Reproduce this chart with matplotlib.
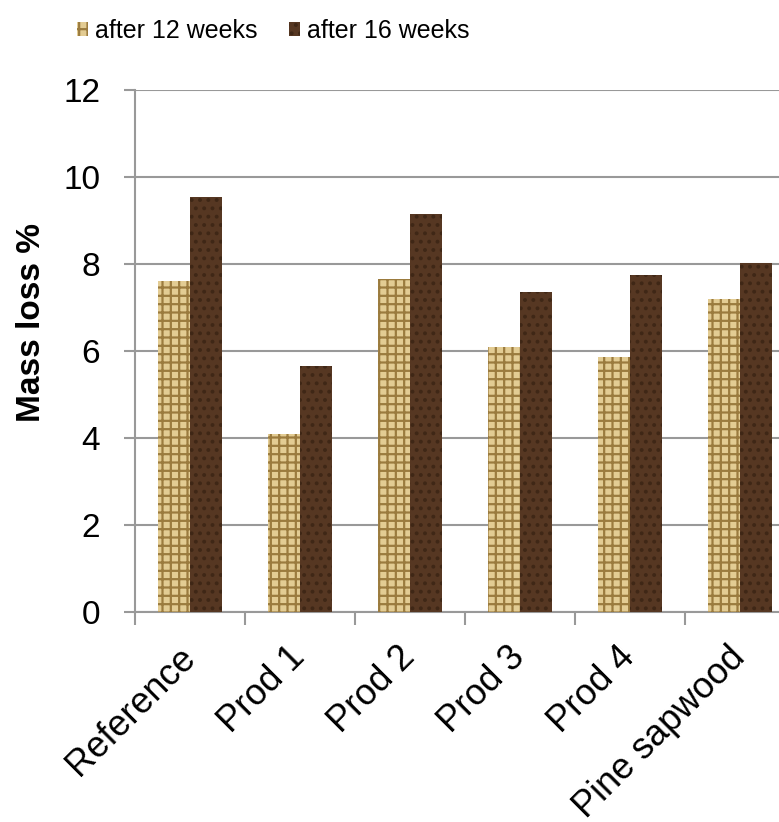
# Mass loss of wood samples after 12 and 16 weeks
import matplotlib.pyplot as plt
import numpy as np

plt.rcParams['font.family'] = ['Liberation Sans', 'DejaVu Sans']
plt.rcParams['hatch.linewidth'] = 1.6

categories = ['Reference', 'Prod 1', 'Prod 2', 'Prod 3', 'Prod 4', 'Pine sapwood']
after_12 = [7.6, 4.1, 7.65, 6.1, 5.87, 7.2]
after_16 = [9.55, 5.65, 9.15, 7.35, 7.75, 8.03]

fig = plt.figure(figsize=(7.79, 8.22), dpi=100)
ax = fig.add_axes([0.1733, 0.2555, 0.847, 0.635])

x = np.arange(len(categories))
w = 0.29
b1 = ax.bar(x - w / 2, after_12, w, color='#e3cc93', edgecolor='#9b7b3e',
            hatch='++', linewidth=0, label='after 12 weeks', zorder=3)
b2 = ax.bar(x + w / 2, after_16, w, color='#563722', edgecolor='#3f2716',
            hatch='..', linewidth=0, label='after 16 weeks', zorder=3)

ax.set_xlim(-0.5, len(categories) - 0.5)
ax.set_ylim(0, 12)
ax.set_yticks(range(0, 13, 2))
ax.set_xticks(np.arange(len(categories) + 1) - 0.5, minor=True)
ax.set_xticks(x)
ax.set_xticklabels(categories, rotation=45, ha='right', va='center',
                   rotation_mode='anchor', fontsize=26)
ax.tick_params(axis='x', which='major', length=0, pad=29)
ax.tick_params(axis='x', which='minor', length=9, width=1.5, color='#999999')
ax.tick_params(axis='y', length=8, width=1.5, color='#999999', labelsize=24, pad=17)

ax.grid(axis='y', color='#999999', linewidth=1.5, zorder=0)
for s in ['top', 'right']:
    ax.spines[s].set_visible(False)
for s in ['left', 'bottom']:
    ax.spines[s].set_color('#999999')
    ax.spines[s].set_linewidth(1.5)

fig.text(31 / 779, 1 - 322 / 822, 'Mass loss %', rotation=90, ha='center',
         va='center', fontsize=24, fontweight='bold')

fig.legend(handles=[b1, b2], loc='center', bbox_to_anchor=(273 / 779, 1 - 31 / 822),
           ncol=2, frameon=False, fontsize=18, handlelength=0.45, handleheight=0.45,
           handletextpad=0.28, columnspacing=1.25)

fig.savefig('out.png', dpi=100)
